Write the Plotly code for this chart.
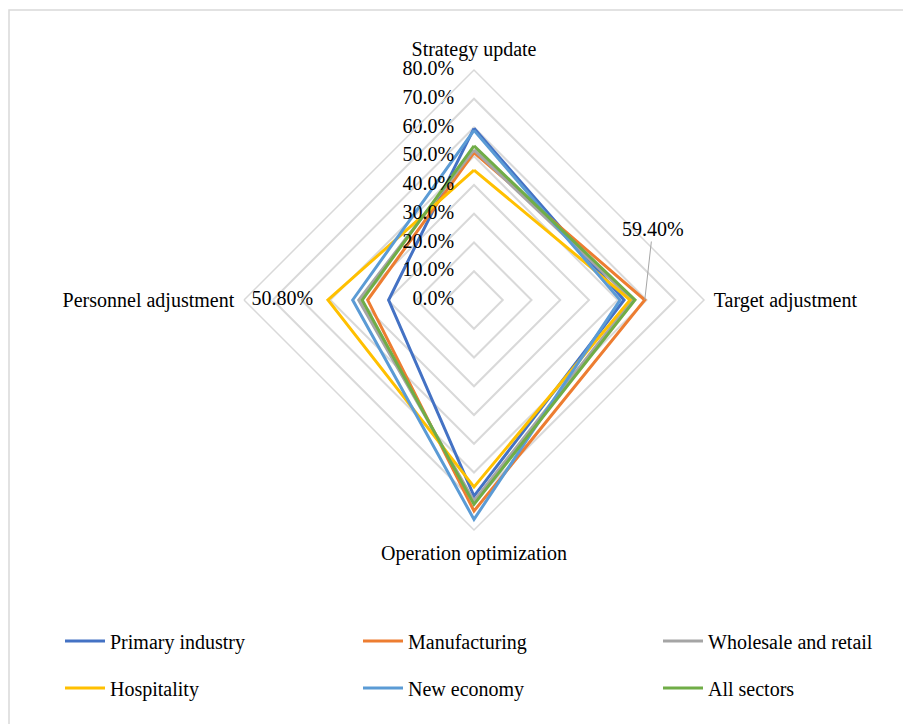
import plotly.graph_objects as go

# Dimensions of the radar
dimensions = ["Strategy update", "Target adjustment", "Operation optimization", "Personnel adjustment"]

# Share of firms per sector (fractions)
primary_industry = [0.597, 0.522, 0.682, 0.297]
manufacturing = [0.513, 0.594, 0.734, 0.370]
wholesale_retail = [0.522, 0.551, 0.699, 0.401]
hospitality = [0.452, 0.543, 0.650, 0.508]
new_economy = [0.590, 0.508, 0.763, 0.422]
all_sectors = [0.536, 0.560, 0.711, 0.389]

series_names = ["Primary industry", "Manufacturing", "Wholesale and retail",
                "Hospitality", "New economy", "All sectors"]
series_values = [primary_industry, manufacturing, wholesale_retail,
                 hospitality, new_economy, all_sectors]
series_colors = ["#4472C4", "#ED7D31", "#A5A5A5", "#FFC000", "#5B9BD5", "#70AD47"]

radial_ticks = [0.0, 0.1, 0.2, 0.3, 0.4, 0.5, 0.6, 0.7, 0.8]

W, H = 903, 724
FONT = "Liberation Serif"
FS = 20
GRID = "#d9d9d9"
TXT = dict(family=FONT, size=FS, color="#000000")

# polar area in pixels
cx, cy, R = 474, 300, 230
r_max = radial_ticks[-1]

fig = go.Figure()

for i, (name, vals, col) in enumerate(zip(series_names, series_values, series_colors)):
    fig.add_trace(go.Scatterpolar(
        r=vals + vals[:1],
        theta=dimensions + dimensions[:1],
        mode="lines",
        line=dict(color=col, width=3),
        name=name,
        legend="legend" if i == 0 else f"legend{i + 1}",
        hoverinfo="skip",
    ))

# radial scale labels, left of the vertical axis
# (the origin label is nudged off r=0 so plotly keeps it)
fig.add_trace(go.Scatterpolar(
    r=[max(v, 1e-6) for v in radial_ticks],
    theta=[dimensions[0]] * len(radial_ticks),
    mode="markers+text",
    text=[f"{v * 100:.1f}%" for v in radial_ticks],
    textposition="middle left",
    textfont=TXT,
    marker=dict(size=30, color="rgba(0,0,0,0)"),
    cliponaxis=False,
    showlegend=False, hoverinfo="skip",
))

# data label for Hospitality / Personnel adjustment
h_idx = dimensions.index("Personnel adjustment")
fig.add_trace(go.Scatterpolar(
    r=[hospitality[h_idx]],
    theta=[dimensions[h_idx]],
    mode="markers+text",
    text=[f"{hospitality[h_idx] * 100:.2f}%"],
    textposition="middle left",
    textfont=TXT,
    marker=dict(size=22, color="rgba(0,0,0,0)"),
    cliponaxis=False,
    showlegend=False, hoverinfo="skip",
))

# data label for Manufacturing / Target adjustment with a leader line
m_idx = dimensions.index("Target adjustment")
m_val = manufacturing[m_idx]
px = cx + m_val / r_max * R
fig.add_annotation(
    x=px / W, y=1 - cy / H, xref="paper", yref="paper",
    text=f"{m_val * 100:.2f}%",
    showarrow=True, arrowhead=0, arrowwidth=1, arrowcolor="#a6a6a6",
    ax=8, ay=-71, standoff=0,
    font=TXT,
)

# chart area border
fig.add_shape(type="rect", xref="paper", yref="paper",
              x0=9 / W, x1=1.02, y0=-0.02, y1=1 - 10 / H,
              line=dict(color=GRID, width=1.5), fillcolor="rgba(0,0,0,0)", layer="below")

# one legend per entry, laid out as a 3 x 2 grid
legend_cols = [60, 358, 658]
legend_rows = [641, 688]
legends = {}
for i in range(len(series_names)):
    key = "legend" if i == 0 else f"legend{i + 1}"
    legends[key] = dict(
        x=legend_cols[i % 3] / W, y=1 - legend_rows[i // 3] / H,
        xanchor="left", yanchor="middle", orientation="h",
        font=TXT, bgcolor="rgba(0,0,0,0)", itemwidth=40,
    )

fig.update_layout(
    width=W, height=H,
    margin=dict(l=0, r=0, t=0, b=0),
    paper_bgcolor="white",
    font=TXT,
    showlegend=True,
    **legends,
    polar=dict(
        domain=dict(x=[(cx - R) / W, (cx + R) / W], y=[1 - (cy + R) / H, 1 - (cy - R) / H]),
        bgcolor="white",
        gridshape="linear",
        angularaxis=dict(
            rotation=90, direction="clockwise",
            categoryorder="array", categoryarray=dimensions,
            showgrid=False, showline=True, linecolor=GRID, linewidth=1.5,
            ticks="outside", ticklen=5, tickcolor="rgba(0,0,0,0)", tickfont=TXT,
        ),
        radialaxis=dict(
            range=[0, r_max], tickvals=radial_ticks,
            showticklabels=False, showline=False, ticks="",
            gridcolor=GRID, gridwidth=1.5,
        ),
    ),
)

fig.write_html("out.html")
